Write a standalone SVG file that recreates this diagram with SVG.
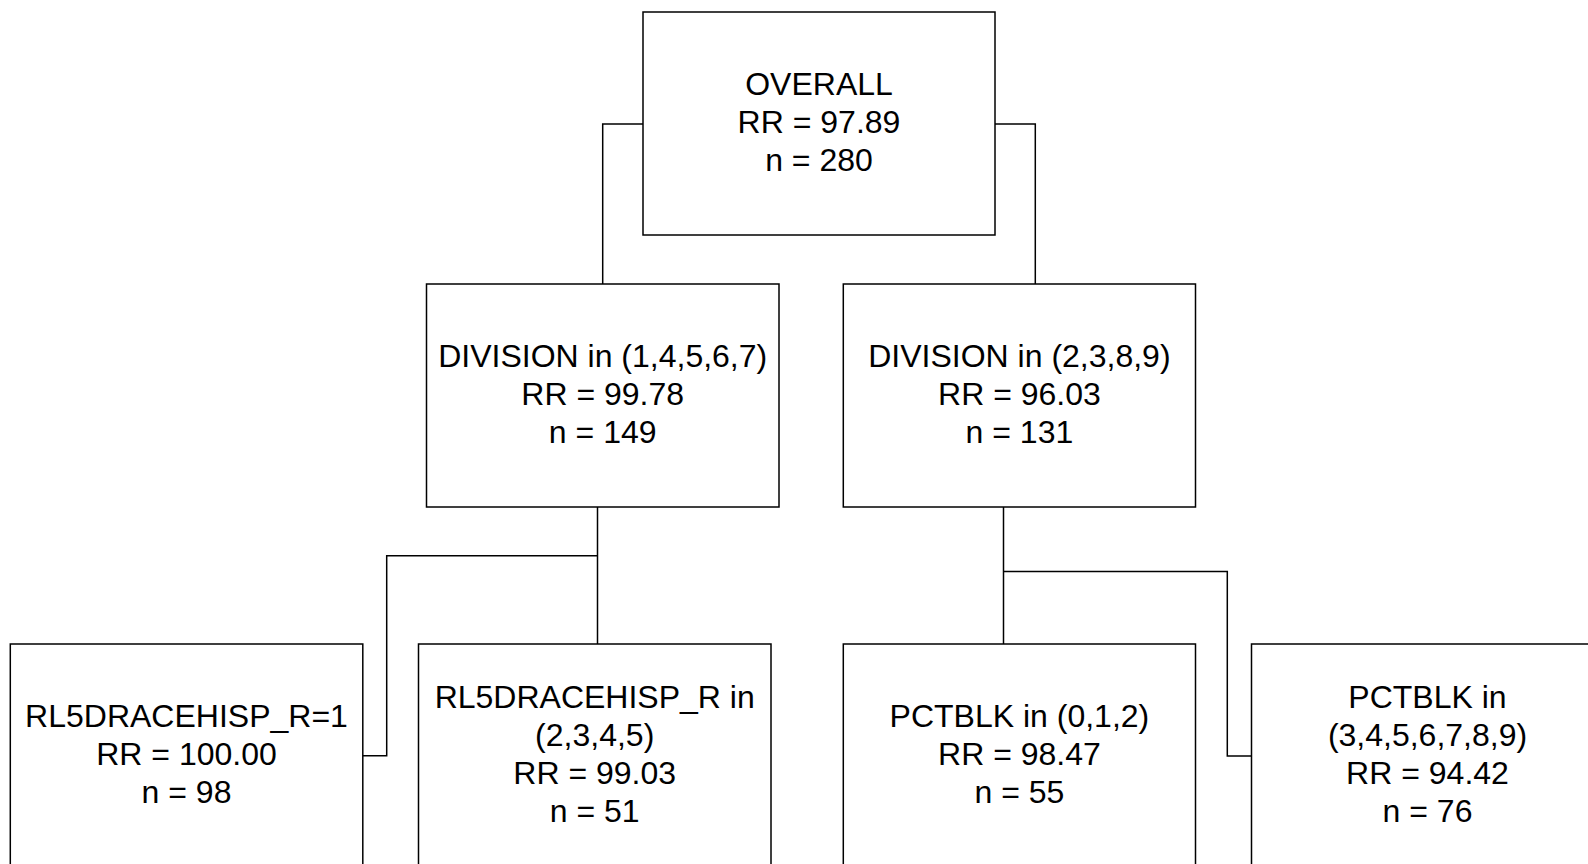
<svg xmlns="http://www.w3.org/2000/svg" width="1588" height="864" viewBox="0 0 1588 864">
<style>
.box{fill:#fff;stroke:#000;stroke-width:1.5}
.ln{fill:none;stroke:#000;stroke-width:1.5}
text{font-family:"Liberation Sans",Arial,sans-serif;font-size:32px;fill:#000;text-anchor:middle}
</style>
<rect width="1588" height="864" fill="#fff"/>
<g id="connectors">
<polyline class="ln" points="643,124 602.7,124 602.7,284"/>
<polyline class="ln" points="995,124 1035.3,124 1035.3,284"/>
<polyline class="ln" points="597.5,507 597.5,644"/>
<polyline class="ln" points="597.5,555.7 386.7,555.7 386.7,755.7 362.8,755.7"/>
<polyline class="ln" points="1003.5,507 1003.5,644"/>
<polyline class="ln" points="1003.5,571.5 1227.3,571.5 1227.3,756 1251.5,756"/>
</g>
<g id="root">
<rect class="box" x="643" y="12" width="352" height="223"/>
<text x="819" y="95">OVERALL</text>
<text x="819" y="133">RR = 97.89</text>
<text x="819" y="171">n = 280</text>
</g>
<g id="div1">
<rect class="box" x="426.5" y="284" width="352.5" height="223"/>
<text x="602.7" y="367">DIVISION in (1,4,5,6,7)</text>
<text x="602.7" y="405">RR = 99.78</text>
<text x="602.7" y="443">n = 149</text>
</g>
<g id="div2">
<rect class="box" x="843.3" y="284" width="352.2" height="223"/>
<text x="1019.4" y="367">DIVISION in (2,3,8,9)</text>
<text x="1019.4" y="405">RR = 96.03</text>
<text x="1019.4" y="443">n = 131</text>
</g>
<g id="leaf1">
<rect class="box" x="10.3" y="644" width="352.5" height="223"/>
<text x="186.5" y="727">RL5DRACEHISP_R=1</text>
<text x="186.5" y="765">RR = 100.00</text>
<text x="186.5" y="803">n = 98</text>
</g>
<g id="leaf2">
<rect class="box" x="418.5" y="644" width="352.5" height="223"/>
<text x="594.7" y="708">RL5DRACEHISP_R in</text>
<text x="594.7" y="746">(2,3,4,5)</text>
<text x="594.7" y="784">RR = 99.03</text>
<text x="594.7" y="822">n = 51</text>
</g>
<g id="leaf3">
<rect class="box" x="843.3" y="644" width="352.2" height="223"/>
<text x="1019.4" y="727">PCTBLK in (0,1,2)</text>
<text x="1019.4" y="765">RR = 98.47</text>
<text x="1019.4" y="803">n = 55</text>
</g>
<g id="leaf4">
<rect class="box" x="1251.5" y="644" width="352" height="223"/>
<text x="1427.5" y="708">PCTBLK in</text>
<text x="1427.5" y="746">(3,4,5,6,7,8,9)</text>
<text x="1427.5" y="784">RR = 94.42</text>
<text x="1427.5" y="822">n = 76</text>
</g>
</svg>
